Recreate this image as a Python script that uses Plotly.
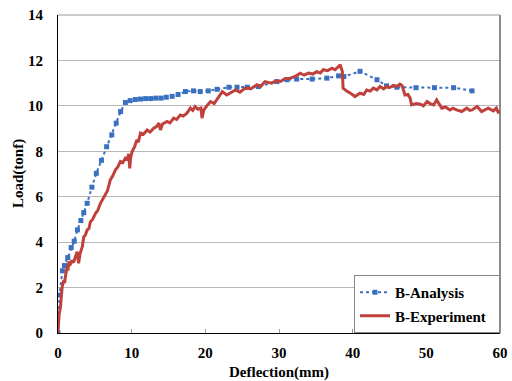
import plotly.graph_objects as go

# Analysis curve (blue)
ana_x = [0, 0.2, 0.6, 0.88, 1.33, 1.79, 2.2, 2.64, 3.1, 3.5, 3.96, 4.6, 5.2, 5.9, 6.6, 7.3, 7.9, 8.5,
         9.15, 9.8, 10.5, 11.2, 11.9, 12.6, 13.3, 14.0, 14.7, 15.5, 16.3, 17.3, 18.4, 19.3, 20.4, 21.6,
         23.2, 24.3, 25.7, 27.2, 29.7, 31.1, 32.4, 34.5, 36.5, 38.1, 38.8, 41.0, 43.3, 44.6, 46.0,
         48.6, 51.1, 53.7, 56.2]
ana_y = [0, 1.67, 2.74, 2.97, 3.32, 3.76, 4.04, 4.54, 4.95, 5.3, 5.71, 6.42, 7.03, 7.6, 8.2, 8.72, 9.24, 9.75,
         10.15, 10.23, 10.28, 10.3, 10.32, 10.32, 10.34, 10.34, 10.38, 10.42, 10.5, 10.63, 10.66, 10.63, 10.66, 10.73,
         10.82, 10.82, 10.82, 10.85, 11.07, 11.15, 11.18, 11.18, 11.22, 11.32, 11.29, 11.52, 11.15, 10.88, 10.82,
         10.8, 10.8, 10.8, 10.66]

# Experiment curve (red)
exp_x = [0, 0.15, 0.34, 0.45, 0.57, 0.8, 0.9, 1.0, 1.25, 1.35, 1.47, 1.7, 1.9, 2.1, 2.37, 2.6, 2.7, 2.8,
         3.0, 3.3, 3.5, 3.7, 3.96, 4.2, 4.4, 4.7, 5.1, 5.4, 5.76, 6.1, 6.44, 6.7, 7.1, 7.4, 7.8, 8.1,
         8.47, 8.8, 9.15, 9.4, 9.6, 9.74, 9.85, 10.06, 10.4, 10.7, 10.9, 11.2, 11.6, 12.1, 12.5, 13.0,
         13.4, 13.7, 13.9, 14.2, 14.8, 15.2, 15.7, 16.1, 16.6, 17.0, 17.5, 17.97, 18.3, 18.6, 19.0, 19.4,
         19.55, 19.8, 20.2, 20.7, 21.2, 21.8, 22.3, 22.9, 23.5, 24.1, 24.7, 25.4, 26.2, 27.0, 27.5, 28.1,
         29.0, 29.6, 30.2, 30.8, 31.5, 32.2, 32.9, 33.4, 34.0, 34.6, 35.1, 35.6, 36.0, 36.6, 37.2, 37.6,
         38.0, 38.3, 38.6, 38.7, 39.2, 39.7, 40.3, 41.0, 41.5, 41.9, 42.4, 42.8, 43.3, 43.7, 44.2, 44.6,
         45.0, 45.5, 46.0, 46.4, 46.7, 47.1, 47.5, 47.8, 48.0, 48.6, 49.2, 49.6, 50.1, 50.5, 51.0, 51.4,
         52.1, 52.6, 53.2, 53.6, 54.1, 54.8, 55.5, 55.9, 56.2, 56.9, 57.5, 58.0, 58.4, 59.1, 59.5, 59.8, 60.0]
exp_y = [0, 0.8, 1.16, 1.7, 2.04, 2.33, 2.2, 2.48, 2.92, 2.75, 3.14, 3.05, 3.2, 3.1, 3.36, 3.58, 3.3, 3.07,
         3.5, 3.8, 4.24, 4.3, 4.54, 4.6, 4.9, 5.0, 5.27, 5.4, 5.71, 5.9, 6.15, 6.25, 6.74, 6.9, 7.18, 7.3,
         7.55, 7.5, 7.7, 7.65, 7.89, 7.25, 7.7, 7.99, 8.2, 8.5, 8.4, 8.8, 8.75, 8.94, 8.85, 9.02,
         9.1, 9.24, 8.94, 9.2, 9.31, 9.25, 9.46, 9.4, 9.6, 9.55, 9.68, 9.9, 9.8, 9.97, 9.85, 9.9,
         9.46, 9.82, 10.0, 10.19, 10.1, 10.41, 10.63, 10.48, 10.6, 10.7, 10.6, 10.78, 10.75, 10.93, 10.85, 11.07,
         11.0, 11.1, 11.07, 11.2, 11.22, 11.3, 11.44, 11.35, 11.44, 11.4, 11.51, 11.45, 11.59, 11.55, 11.66, 11.59,
         11.7, 11.81, 11.51, 10.78, 10.65, 10.56, 10.41, 10.56, 10.5, 10.7, 10.65, 10.78, 10.7, 10.85, 10.75, 10.85,
         10.8, 10.9, 10.85, 10.96, 10.9, 10.48, 10.5, 10.34, 10.04, 10.1, 10.07, 10.0, 10.19, 10.1, 10.04, 10.26,
         9.9, 9.95, 9.82, 9.9, 9.82, 9.75, 9.9, 9.8, 9.82, 9.97, 9.75, 9.85, 9.9, 9.78, 9.9, 9.68, 9.8]

x_ticks = [0, 10, 20, 30, 40, 50, 60]
y_ticks = [0, 2, 4, 6, 8, 10, 12, 14]

FONT = "Liberation Serif"

fig = go.Figure()
fig.add_trace(go.Scatter(
    x=ana_x, y=ana_y, name="<b>B-Analysis</b>", mode="lines+markers", legendgroup="a",
    line=dict(color="#3a70c0", width=2, dash="dot"),
    marker=dict(symbol="square", size=5, color="#3a70c0"),
))
fig.add_trace(go.Scatter(
    x=exp_x, y=exp_y, name="<b>B-Experiment</b>  ", mode="lines", legendgroup="b",
    line=dict(color="#c0403c", width=3),
))

fig.update_layout(
    width=512, height=381,
    margin=dict(l=58, r=12, t=15, b=48, autoexpand=False),
    paper_bgcolor="white", plot_bgcolor="white",
    font=dict(family=FONT, color="black", size=15),
    showlegend=True,
    legend=dict(
        x=1, y=0, xanchor="right", yanchor="bottom",
        bgcolor="white", bordercolor="#888888", borderwidth=1,
        font=dict(family=FONT, size=15, color="black"),
        tracegroupgap=1, itemwidth=30,
    ),
    xaxis=dict(
        range=[0, 60], tickvals=x_ticks, ticktext=[f"<b>{v}</b>" for v in x_ticks],
        showgrid=False, zeroline=False, automargin=False,
        showline=True, linecolor="black", linewidth=1,
        ticks="inside", ticklen=4, tickcolor="#999999",
        ticklabelstandoff=6,
    ),
    yaxis=dict(
        range=[0, 14], tickvals=y_ticks, ticktext=[f"<b>{v}</b>" for v in y_ticks],
        showgrid=True, gridcolor="#b8b8b8", gridwidth=1, zeroline=False, automargin=False,
        showline=True, linecolor="black", linewidth=1,
        ticks="", ticklabelstandoff=11,
    ),
    annotations=[
        dict(text="<b>Deflection(mm)</b>", xref="paper", yref="paper", x=0.5, y=0,
             yshift=-39, xanchor="center", yanchor="middle", showarrow=False,
             font=dict(family=FONT, size=15)),
        dict(text="<b>Load(tonf)</b>", xref="paper", yref="paper", x=0, y=0.5,
             xshift=-40, xanchor="center", yanchor="middle", textangle=-90, showarrow=False,
             font=dict(family=FONT, size=15)),
    ],
    shapes=[
        dict(type="line", xref="paper", yref="paper", x0=1, x1=1, y0=0, y1=1,
             line=dict(color="#666666", width=1.5)),
        dict(type="line", xref="paper", yref="paper", x0=0, x1=1, y0=1, y1=1,
             line=dict(color="#999999", width=1)),
    ],
)

fig.write_html("out.html")
